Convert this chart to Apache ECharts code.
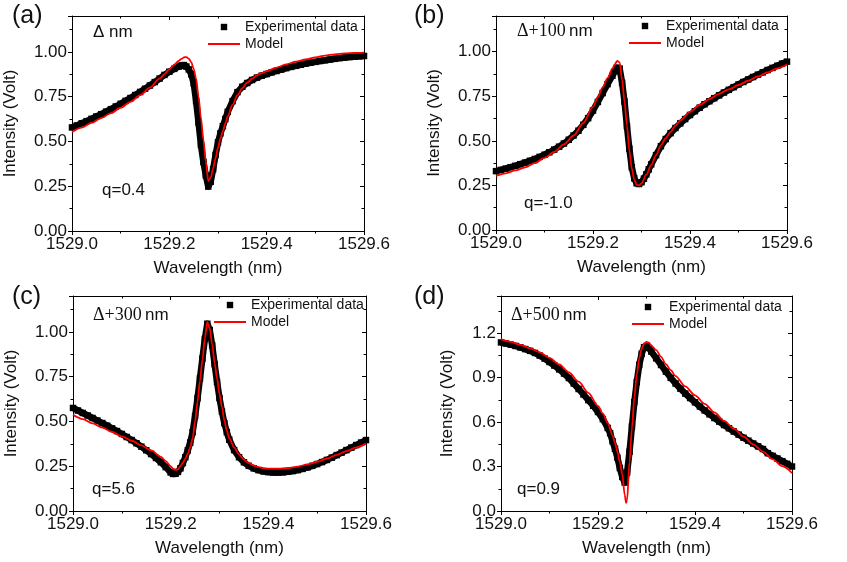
<!DOCTYPE html>
<html>
<head>
<meta charset="utf-8">
<script src="https://cdn.jsdelivr.net/npm/echarts@6/dist/echarts.min.js"></script>
<style>
  html, body { margin: 0; padding: 0; background: #fff; }
  #chart { width: 847px; height: 562px; }
</style>
</head>
<body>
<div id="chart"></div>
<script>
// readings: [wavelength (nm), intensity (Volt)]
const expA = [
  [1529.00,0.578],[1529.01,0.589],[1529.02,0.601],[1529.03,0.613],[1529.04,0.626],[1529.05,0.639],
  [1529.06,0.652],[1529.07,0.666],[1529.08,0.680],[1529.09,0.695],[1529.10,0.710],[1529.11,0.726],
  [1529.12,0.742],[1529.13,0.759],[1529.14,0.776],[1529.15,0.794],[1529.16,0.812],[1529.17,0.831],
  [1529.18,0.851],[1529.19,0.871],[1529.20,0.889],[1529.21,0.905],[1529.22,0.918],[1529.225,0.924],
  [1529.23,0.926],[1529.235,0.918],[1529.24,0.902],[1529.245,0.875],[1529.25,0.825],[1529.255,0.725],
  [1529.26,0.605],[1529.265,0.480],[1529.27,0.385],[1529.275,0.310],[1529.28,0.248],[1529.285,0.275],
  [1529.29,0.345],[1529.295,0.425],[1529.30,0.495],[1529.305,0.545],[1529.31,0.585],[1529.315,0.625],
  [1529.32,0.665],[1529.33,0.725],[1529.34,0.775],[1529.35,0.805],[1529.36,0.826],[1529.37,0.843],
  [1529.38,0.856],[1529.39,0.867],[1529.40,0.876],[1529.41,0.885],[1529.42,0.893],[1529.43,0.901],
  [1529.44,0.909],[1529.45,0.916],[1529.46,0.922],[1529.47,0.928],[1529.48,0.934],[1529.49,0.939],
  [1529.50,0.944],[1529.51,0.949],[1529.52,0.953],[1529.53,0.957],[1529.54,0.961],[1529.55,0.965],
  [1529.56,0.968],[1529.57,0.971],[1529.58,0.973],[1529.59,0.975],[1529.60,0.977]
];
const modelA = [
  [1529.00,0.552],[1529.02,0.577],[1529.04,0.603],[1529.06,0.630],[1529.08,0.658],[1529.10,0.688],
  [1529.12,0.721],[1529.14,0.758],[1529.16,0.800],[1529.18,0.850],[1529.19,0.876],[1529.20,0.903],
  [1529.21,0.928],[1529.22,0.951],[1529.225,0.961],[1529.23,0.969],[1529.235,0.971],[1529.24,0.962],
  [1529.245,0.942],[1529.25,0.905],[1529.255,0.850],[1529.26,0.750],[1529.265,0.630],[1529.27,0.508],
  [1529.275,0.390],[1529.28,0.278],[1529.285,0.298],[1529.29,0.350],[1529.295,0.408],[1529.30,0.465],
  [1529.305,0.515],[1529.31,0.558],[1529.315,0.600],[1529.32,0.640],[1529.33,0.705],[1529.34,0.758],
  [1529.35,0.798],[1529.36,0.828],[1529.37,0.851],[1529.38,0.868],[1529.39,0.881],[1529.40,0.892],
  [1529.42,0.912],[1529.44,0.930],[1529.46,0.945],[1529.48,0.958],[1529.50,0.969],[1529.52,0.979],
  [1529.54,0.986],[1529.56,0.991],[1529.58,0.994],[1529.60,0.996]
];

const expB = [
  [1529.00,0.330],[1529.01,0.337],[1529.02,0.344],[1529.03,0.352],[1529.04,0.360],[1529.05,0.369],
  [1529.06,0.378],[1529.07,0.388],[1529.08,0.398],[1529.09,0.410],[1529.10,0.422],[1529.11,0.436],
  [1529.12,0.451],[1529.13,0.467],[1529.14,0.485],[1529.15,0.506],[1529.16,0.530],[1529.17,0.557],
  [1529.18,0.590],[1529.19,0.627],[1529.20,0.670],[1529.21,0.718],[1529.22,0.768],[1529.23,0.818],
  [1529.24,0.865],[1529.245,0.890],[1529.25,0.910],[1529.255,0.905],[1529.26,0.825],[1529.265,0.720],
  [1529.27,0.582],[1529.275,0.455],[1529.28,0.352],[1529.285,0.290],[1529.29,0.262],[1529.295,0.258],
  [1529.30,0.268],[1529.305,0.288],[1529.31,0.312],[1529.315,0.340],[1529.32,0.368],[1529.33,0.420],
  [1529.34,0.470],[1529.35,0.510],[1529.36,0.543],[1529.37,0.572],[1529.38,0.598],[1529.39,0.622],
  [1529.40,0.645],[1529.41,0.666],[1529.42,0.686],[1529.43,0.705],[1529.44,0.722],[1529.45,0.739],
  [1529.46,0.755],[1529.47,0.771],[1529.48,0.786],[1529.49,0.801],[1529.50,0.816],[1529.51,0.830],
  [1529.52,0.844],[1529.53,0.858],[1529.54,0.871],[1529.55,0.884],[1529.56,0.897],[1529.57,0.909],
  [1529.58,0.921],[1529.59,0.933],[1529.60,0.944]
];
const modelB = [
  [1529.00,0.303],[1529.02,0.318],[1529.04,0.334],[1529.06,0.352],[1529.08,0.375],[1529.10,0.405],
  [1529.12,0.438],[1529.14,0.480],[1529.16,0.530],[1529.18,0.600],[1529.20,0.690],[1529.21,0.745],
  [1529.22,0.800],[1529.23,0.852],[1529.24,0.905],[1529.245,0.930],[1529.25,0.948],[1529.255,0.940],
  [1529.26,0.840],[1529.265,0.720],[1529.27,0.585],[1529.275,0.445],[1529.28,0.345],[1529.285,0.285],
  [1529.29,0.252],[1529.295,0.250],[1529.30,0.262],[1529.31,0.310],[1529.32,0.365],[1529.33,0.420],
  [1529.34,0.475],[1529.35,0.515],[1529.36,0.550],[1529.37,0.585],[1529.38,0.615],[1529.40,0.662],
  [1529.42,0.701],[1529.44,0.734],[1529.46,0.763],[1529.48,0.789],[1529.50,0.813],[1529.52,0.837],
  [1529.54,0.861],[1529.56,0.884],[1529.58,0.906],[1529.60,0.928]
];

const expC = [
  [1529.00,0.575],[1529.01,0.561],[1529.02,0.547],[1529.03,0.533],[1529.04,0.519],[1529.05,0.505],
  [1529.06,0.491],[1529.07,0.476],[1529.08,0.461],[1529.09,0.446],[1529.10,0.430],[1529.11,0.413],
  [1529.12,0.396],[1529.13,0.378],[1529.14,0.359],[1529.15,0.339],[1529.16,0.318],[1529.17,0.296],
  [1529.18,0.272],[1529.19,0.245],[1529.20,0.215],[1529.205,0.207],[1529.21,0.208],[1529.215,0.218],
  [1529.22,0.238],[1529.225,0.268],[1529.23,0.300],[1529.235,0.338],[1529.24,0.382],[1529.245,0.440],
  [1529.25,0.530],[1529.255,0.630],[1529.26,0.740],[1529.265,0.850],[1529.27,0.960],[1529.275,1.045],
  [1529.28,1.010],[1529.285,0.925],[1529.29,0.820],[1529.295,0.720],[1529.30,0.630],[1529.305,0.555],
  [1529.31,0.490],[1529.315,0.440],[1529.32,0.398],[1529.33,0.340],[1529.34,0.300],[1529.35,0.272],
  [1529.36,0.252],[1529.37,0.238],[1529.38,0.228],[1529.39,0.221],[1529.40,0.217],[1529.41,0.215],
  [1529.42,0.215],[1529.43,0.216],[1529.44,0.219],[1529.45,0.223],[1529.46,0.228],[1529.47,0.235],
  [1529.48,0.243],[1529.49,0.252],[1529.50,0.262],[1529.51,0.273],[1529.52,0.285],[1529.53,0.298],
  [1529.54,0.312],[1529.55,0.326],[1529.56,0.340],[1529.57,0.354],[1529.58,0.368],[1529.59,0.382],
  [1529.60,0.396]
];
const modelC = [
  [1529.00,0.537],[1529.02,0.513],[1529.04,0.489],[1529.06,0.465],[1529.08,0.441],[1529.10,0.417],
  [1529.12,0.392],[1529.14,0.366],[1529.16,0.338],[1529.18,0.302],[1529.19,0.278],[1529.20,0.250],
  [1529.205,0.236],[1529.21,0.229],[1529.215,0.233],[1529.22,0.250],[1529.225,0.270],[1529.23,0.292],
  [1529.235,0.320],[1529.24,0.355],[1529.245,0.405],[1529.25,0.500],[1529.255,0.610],[1529.26,0.725],
  [1529.265,0.845],[1529.27,0.965],[1529.275,1.056],[1529.28,1.020],[1529.285,0.930],[1529.29,0.825],
  [1529.295,0.740],[1529.30,0.655],[1529.305,0.580],[1529.31,0.505],[1529.315,0.448],[1529.32,0.405],
  [1529.33,0.355],[1529.34,0.315],[1529.35,0.287],[1529.36,0.267],[1529.37,0.254],[1529.38,0.245],
  [1529.39,0.239],[1529.40,0.236],[1529.42,0.236],[1529.44,0.240],[1529.46,0.248],[1529.48,0.260],
  [1529.50,0.275],[1529.52,0.293],[1529.54,0.313],[1529.56,0.334],[1529.58,0.355],[1529.60,0.376]
];

const expD = [
  [1529.00,1.137],[1529.01,1.130],[1529.02,1.122],[1529.03,1.113],[1529.04,1.103],[1529.05,1.092],
  [1529.06,1.080],[1529.07,1.066],[1529.08,1.048],[1529.09,1.028],[1529.10,1.005],[1529.11,0.981],
  [1529.12,0.955],[1529.13,0.927],[1529.14,0.897],[1529.15,0.860],[1529.16,0.823],[1529.17,0.786],
  [1529.18,0.748],[1529.19,0.710],[1529.20,0.668],[1529.21,0.620],[1529.22,0.560],[1529.225,0.525],
  [1529.23,0.470],[1529.235,0.420],[1529.24,0.360],[1529.245,0.290],[1529.25,0.230],[1529.255,0.192],
  [1529.26,0.260],[1529.265,0.400],[1529.27,0.570],[1529.275,0.735],[1529.28,0.870],[1529.285,0.985],
  [1529.29,1.060],[1529.295,1.105],[1529.30,1.112],[1529.305,1.100],[1529.31,1.075],[1529.32,1.030],
  [1529.33,0.985],[1529.34,0.940],[1529.35,0.898],[1529.36,0.860],[1529.37,0.825],[1529.38,0.792],
  [1529.39,0.762],[1529.40,0.733],[1529.41,0.705],[1529.42,0.678],[1529.43,0.652],[1529.44,0.627],
  [1529.45,0.603],[1529.46,0.580],[1529.47,0.558],[1529.48,0.536],[1529.49,0.515],[1529.50,0.494],
  [1529.51,0.474],[1529.52,0.455],[1529.53,0.436],[1529.54,0.418],[1529.55,0.390],[1529.56,0.372],
  [1529.57,0.354],[1529.58,0.336],[1529.59,0.318],[1529.60,0.300]
];
const modelD = [
  [1529.00,1.159],[1529.02,1.141],[1529.04,1.120],[1529.06,1.097],[1529.08,1.070],[1529.10,1.033],
  [1529.12,0.988],[1529.14,0.935],[1529.16,0.872],[1529.18,0.797],[1529.20,0.708],[1529.21,0.657],
  [1529.22,0.595],[1529.23,0.510],[1529.235,0.460],[1529.24,0.400],[1529.245,0.330],[1529.25,0.250],
  [1529.255,0.110],[1529.258,0.055],[1529.26,0.075],[1529.265,0.330],[1529.27,0.560],[1529.275,0.770],
  [1529.28,0.920],[1529.285,1.030],[1529.29,1.095],[1529.295,1.130],[1529.30,1.140],[1529.305,1.135],
  [1529.31,1.115],[1529.32,1.085],[1529.33,1.040],[1529.34,0.990],[1529.35,0.950],[1529.36,0.910],
  [1529.38,0.840],[1529.40,0.780],[1529.42,0.722],[1529.44,0.665],[1529.46,0.608],[1529.48,0.555],
  [1529.50,0.502],[1529.52,0.450],[1529.54,0.400],[1529.56,0.350],[1529.58,0.302],[1529.60,0.256]
];

const xTicks = [1529.0, 1529.6, 0.2];          // min, max, step
const yTicksABC = [0, 1.2, 0.25];
const yTicksD = [0, 1.45, 0.3];
const panelLabels = ['(a)', '(b)', '(c)', '(d)'];
const shiftLabels = ['', '+100', '+300', '+500'];
const qLabels = ['q=0.4', 'q=-1.0', 'q=5.6', 'q=0.9'];

const SANS = "'Liberation Sans', Arial, sans-serif";
const SERIF = "'Liberation Serif', 'Times New Roman', serif";
const INK = '#111';

const panels = [
  { exp: expA, model: modelA, y: yTicksABC, digits: 2,
    grid: { left: 72, top: 16, width: 292, height: 215 }, yGap: 53,
    label: [12, 18], shift: [93, 32], q: [102, 190], legend: [207, 20] },
  { exp: expB, model: modelB, y: yTicksABC, digits: 2,
    grid: { left: 496, top: 16, width: 291, height: 214 }, yGap: 53,
    label: [414, 18], shift: [517, 31], q: [524, 203], legend: [628, 19] },
  { exp: expC, model: modelC, y: yTicksABC, digits: 2,
    grid: { left: 73, top: 296, width: 293, height: 215 }, yGap: 53,
    label: [12, 299], shift: [93, 315], q: [92, 489], legend: [213, 298] },
  { exp: expD, model: modelD, y: yTicksD, digits: 1,
    grid: { left: 501, top: 296, width: 291, height: 215 }, yGap: 45,
    label: [414, 299], shift: [511, 315], q: [517, 489], legend: [631, 300] }
];

function onStep(v, step) {
  return Math.abs(v / step - Math.round(v / step)) < 1e-6;
}

const grid = [], xAxis = [], yAxis = [], series = [], legend = [], graphic = [];

panels.forEach((p, i) => {
  grid.push(p.grid);
  const tickOut = { show: true, inside: false, length: 4, lineStyle: { color: '#000', width: 1 } };
  const tickIn = { show: true, inside: true, length: 4, lineStyle: { color: '#000', width: 1 } };
  const minor = { show: true, splitNumber: 2, length: 2.5, lineStyle: { color: '#000', width: 1 } };
  const line = { show: true, onZero: false, lineStyle: { color: '#000', width: 1 } };

  xAxis.push({
    type: 'value', gridIndex: i, position: 'bottom',
    min: xTicks[0], max: xTicks[1], interval: xTicks[2],
    name: 'Wavelength (nm)', nameLocation: 'middle', nameGap: 29,
    nameTextStyle: { fontSize: 17, fontFamily: SANS, color: INK },
    axisLine: line, axisTick: tickOut, minorTick: minor, splitLine: { show: false },
    axisLabel: { margin: 5, fontSize: 17, fontFamily: SANS, color: INK,
      formatter: v => onStep(v - xTicks[0], xTicks[2]) ? v.toFixed(1) : '' }
  });
  xAxis.push({
    type: 'value', gridIndex: i, position: 'top',
    min: xTicks[0], max: xTicks[1], interval: xTicks[2],
    axisLine: line, axisTick: tickIn, minorTick: minor, splitLine: { show: false },
    axisLabel: { show: false }
  });
  yAxis.push({
    type: 'value', gridIndex: i, position: 'left',
    min: p.y[0], max: p.y[1], interval: p.y[2],
    name: 'Intensity (Volt)', nameLocation: 'middle', nameGap: p.yGap,
    nameTextStyle: { fontSize: 17, fontFamily: SANS, color: INK },
    axisLine: line, axisTick: tickOut, minorTick: minor, splitLine: { show: false },
    axisLabel: { margin: 5, fontSize: 17, fontFamily: SANS, color: INK,
      formatter: v => onStep(v, p.y[2]) ? v.toFixed(p.digits) : '' }
  });
  yAxis.push({
    type: 'value', gridIndex: i, position: 'right',
    min: p.y[0], max: p.y[1], interval: p.y[2],
    axisLine: line, axisTick: tickIn, minorTick: minor, splitLine: { show: false },
    axisLabel: { show: false }
  });

  // dense measured points: square markers joined by a thick black band
  series.push({
    name: 'Experimental data', type: 'line', data: p.exp,
    xAxisIndex: 2 * i, yAxisIndex: 2 * i,
    symbol: 'rect', symbolSize: 6.5, showSymbol: true, showAllSymbol: true,
    itemStyle: { color: '#000' },
    lineStyle: { color: '#000', width: 6.5, join: 'round' },
    silent: true, z: 2
  });
  series.push({
    name: 'Model', type: 'line', data: p.model,
    xAxisIndex: 2 * i, yAxisIndex: 2 * i,
    symbol: 'none', smooth: 0.3, smoothMonotone: 'x',
    itemStyle: { color: '#ff0000' }, lineStyle: { color: '#ff0000', width: 1.8 },
    silent: true, z: 3
  });

  legend.push({
    left: p.legend[0], top: p.legend[1], orient: 'vertical', padding: 0,
    itemWidth: 32, itemHeight: 8, itemGap: 3, selectedMode: false,
    textStyle: { fontSize: 14, fontFamily: SANS, color: INK, lineHeight: 14 },
    data: [
      { name: 'Experimental data', lineStyle: { opacity: 0, width: 0 } },
      { name: 'Model', itemStyle: { opacity: 0 }, lineStyle: { width: 2 } }
    ]
  });

  graphic.push({
    type: 'text', left: p.label[0], top: p.label[1] - 14, silent: true,
    style: { text: panelLabels[i], font: '25px ' + SANS, fill: INK }
  });
  graphic.push({
    type: 'text', x: p.shift[0], y: p.shift[1], silent: true,
    style: {
      text: i === 0 ? '{n|\u0394 nm}' : '{s|\u0394' + shiftLabels[i] + '} {n|nm}',
      verticalAlign: 'middle',
      rich: {
        n: { fontSize: 17, fontFamily: SANS, fill: INK },
        s: { fontSize: 18, fontFamily: SERIF, fill: INK }
      }
    }
  });
  graphic.push({
    type: 'text', x: p.q[0], y: p.q[1], silent: true,
    style: { text: qLabels[i], font: '17px ' + SANS, fill: INK, verticalAlign: 'middle' }
  });
});

const chart = echarts.init(document.getElementById('chart'), null, { renderer: 'canvas' });
chart.setOption({
  backgroundColor: '#fff',
  animation: false,
  grid, xAxis, yAxis, series, legend, graphic
});
</script>
</body>
</html>
